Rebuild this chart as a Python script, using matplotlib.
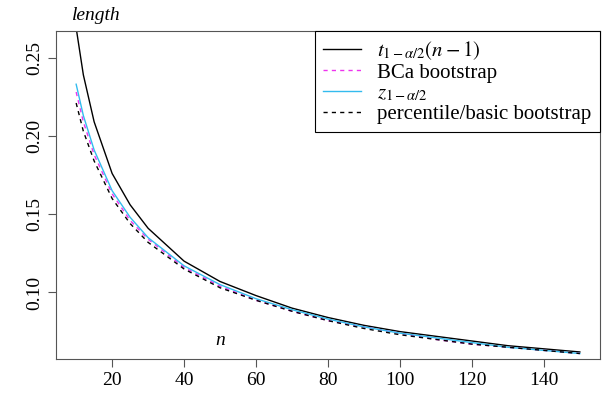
import matplotlib
matplotlib.use("Agg")
import matplotlib.pyplot as plt

plt.rcParams["font.family"] = ["Liberation Serif", "DejaVu Serif"]
plt.rcParams["mathtext.fontset"] = "stix"

n = [10, 12, 15, 20, 25, 30, 40, 50, 60, 70, 80, 90, 100, 110, 120, 130, 140, 150]
t_len = [0.269, 0.239, 0.209, 0.176, 0.156, 0.141, 0.120, 0.107, 0.098, 0.090,
         0.084, 0.079, 0.075, 0.072, 0.069, 0.066, 0.064, 0.062]
bca_len = [0.228, 0.209, 0.188, 0.163, 0.146, 0.134, 0.116, 0.104, 0.095, 0.088,
           0.082, 0.078, 0.074, 0.070, 0.067, 0.065, 0.063, 0.061]
z_len = [0.233, 0.213, 0.191, 0.165, 0.148, 0.135, 0.117, 0.105, 0.096, 0.089,
         0.083, 0.078, 0.074, 0.071, 0.068, 0.065, 0.063, 0.061]
perc_len = [0.221, 0.203, 0.184, 0.160, 0.144, 0.132, 0.115, 0.103, 0.095, 0.088,
            0.082, 0.077, 0.073, 0.070, 0.067, 0.065, 0.063, 0.061]

W, H = 609, 401
fig = plt.figure(figsize=(W / 100, H / 100), dpi=100)
ax = fig.add_axes([56 / W, 1 - 359 / H, (600 - 56) / W, (359 - 31) / H])

ax.plot(n, t_len, color="black", lw=1, label=r"$t_{1-\alpha/2}(n-1)$")
ax.plot(n, bca_len, color="#ee33ee", lw=1, ls=(0, (3, 3)), label="BCa bootstrap")
ax.plot(n, z_len, color="#33bbee", lw=1, label=r"$z_{1-\alpha/2}$")
ax.plot(n, perc_len, color="black", lw=1, ls=(0, (3, 3)), label="percentile/basic bootstrap")

ax.set_xlim(4.4, 155.6)
ax.set_ylim(0.0575, 0.267)
ax.set_xticks([20, 40, 60, 80, 100, 120, 140])
ax.set_yticks([0.10, 0.15, 0.20, 0.25])
ax.set_yticklabels(["0.10", "0.15", "0.20", "0.25"], rotation=90, va="center")
ax.tick_params(labelsize=14, length=6, color="#555555")
for s in ax.spines.values():
    s.set_color("#555555")

ax.text(0.03, 1.02, "length", transform=ax.transAxes, style="italic", fontsize=14, va="bottom")
ax.text(50, 0.0695, "n", style="italic", fontsize=14, ha="center", va="center")

leg = ax.legend(loc="upper right", fontsize=15, frameon=True, fancybox=False,
                edgecolor="black", framealpha=1, handlelength=1.8,
                borderpad=0.4, labelspacing=0.05, borderaxespad=0)
leg.get_frame().set_linewidth(0.8)

fig.savefig("out.png", dpi=100)
